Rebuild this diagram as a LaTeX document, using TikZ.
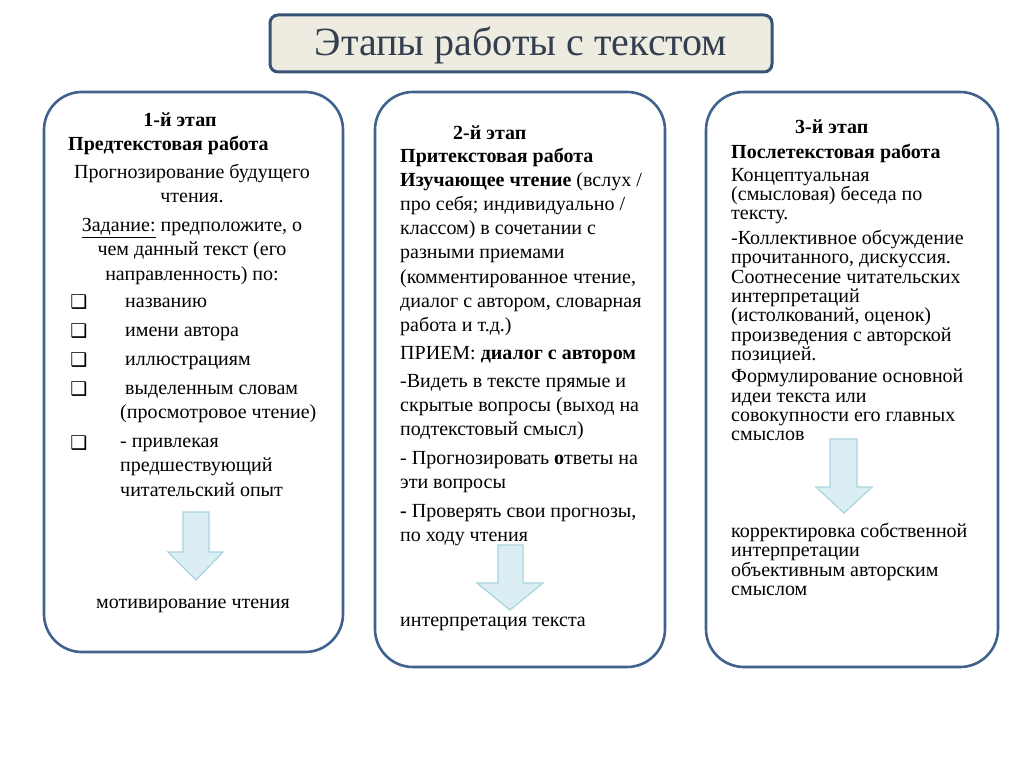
\documentclass[tikz,border=0pt]{standalone}
\usepackage{fontspec}
\setmainfont{Liberation Serif}
\newfontfamily\boxfont{DejaVu Sans}
\definecolor{frame}{HTML}{41628C}
\definecolor{titlefill}{HTML}{EEECE1}
\definecolor{titletext}{HTML}{333F4F}
\definecolor{arrfill}{HTML}{DAEEF3}
\definecolor{arrline}{HTML}{A9D3DF}

\begin{document}
\begin{tikzpicture}[x=1pt, y=-1pt,
  stage/.style={draw=frame, line width=2.6pt, rounded corners=38pt},
  txt/.style={inner sep=0pt, align=left, anchor=north west, font=\fontsize{20}{24.3}\selectfont},
  tight/.style={txt, font=\fontsize{20}{19.3}\selectfont},
  head/.style={inner sep=0pt, anchor=north west, font=\fontsize{20}{23}\selectfont\bfseries},
  chk/.style={inner sep=0pt, font=\boxfont\fontsize{19}{19}\selectfont},
  blockarr/.style={fill=arrfill, draw=arrline, line width=1.2pt, line join=miter}]

\useasboundingbox (0,0) rectangle (1024,767);

% title
\draw[draw=frame!85!black, fill=titlefill, line width=3pt, rounded corners=8pt] (270,15) rectangle (772,72);
\node[font=\fontsize{40}{40}\selectfont, text=titletext] (title) at (521,45) {Этапы работы с текстом};

% three stages
\draw[stage] (44,92) rectangle (343,652);
\draw[stage] (375,92) rectangle (665,667);
\draw[stage] (706,92) rectangle (998,667);

% stage 1
\node[head, anchor=north] (s1) at (180,113) {1-й этап};
\node[head] (s1name) at (68,136) {Предтекстовая работа};
\node[txt, anchor=north, align=center] (s1a) at (192,164) {Прогнозирование будущего\\чтения.};
\node[txt, anchor=north, align=center] (s1b) at (192,218) {\underline{Задание:} предположите, о\\чем данный текст (его\\направленность) по:};
\foreach \y/\n in {302/1,331/2,360/3,389/4,443/5}
  \node[chk] (c\n) at (79,\y) {❑};
\node[txt] (i1) at (125,298) {названию};
\node[txt] (i2) at (125,327) {имени автора};
\node[txt] (i3) at (125,356) {иллюстрациям};
\node[txt] (i4) at (120,385) {\hspace*{5pt}выделенным словам\\(просмотровое чтение)};
\node[txt] (i5) at (120,438) {- привлекая\\предшествующий\\читательский опыт};
\draw[blockarr] (183,512) -- (209,512) -- (209,552) -- (223,552) -- (196,580) -- (168,552) -- (183,552) -- cycle;
\node[txt, anchor=north] (s1res) at (193,599) {мотивирование чтения};

% stage 2
\node[head] (s2) at (453,126) {2-й этап};
\node[head] (s2name) at (400,148) {Притекстовая работа};
\node[txt] (s2a) at (400,172) {\textbf{Изучающее чтение} (вслух /\\про себя; индивидуально /\\классом) в сочетании с\\разными приемами\\(комментированное чтение,\\диалог с автором, словарная\\работа и т.д.)};
\node[txt] (s2b) at (400,346) {ПРИЕМ: \textbf{диалог с автором}};
\node[txt] (s2c) at (400,374) {-Видеть в тексте прямые и\\скрытые вопросы (выход на\\подтекстовый смысл)};
\node[txt] (s2d) at (400,451) {- Прогнозировать \textbf{о}тветы на\\эти вопросы};
\node[txt] (s2e) at (400,504) {\textbf{-} Проверять свои прогнозы,\\по ходу чтения};
\draw[blockarr] (498,545) -- (523,545) -- (523,583) -- (543,583) -- (510,610) -- (477,583) -- (498,583) -- cycle;
\node[txt] (s2res) at (400,617) {интерпретация текста};

% stage 3
\node[head] (s3) at (795,120) {3-й этап};
\node[head] (s3name) at (731,144) {Послетекстовая работа};
\node[tight] (s3a) at (731,168) {Концептуальная\\(смысловая) беседа по\\тексту.};
\node[tight] (s3b) at (731,230) {-Коллективное обсуждение\\прочитанного, дискуссия.\\Соотнесение читательских\\интерпретаций\\(истолкований, оценок)\\произведения с авторской\\позицией.};
\node[tight] (s3c) at (731,369) {Формулирование основной\\идеи текста или\\совокупности его главных\\смыслов};
\draw[blockarr] (830,439) -- (857,439) -- (857,487) -- (872,487) -- (844,513) -- (816,487) -- (830,487) -- cycle;
\node[tight] (s3res) at (731,523) {корректировка собственной\\интерпретации\\объективным авторским\\смыслом};
\end{tikzpicture}
\end{document}
